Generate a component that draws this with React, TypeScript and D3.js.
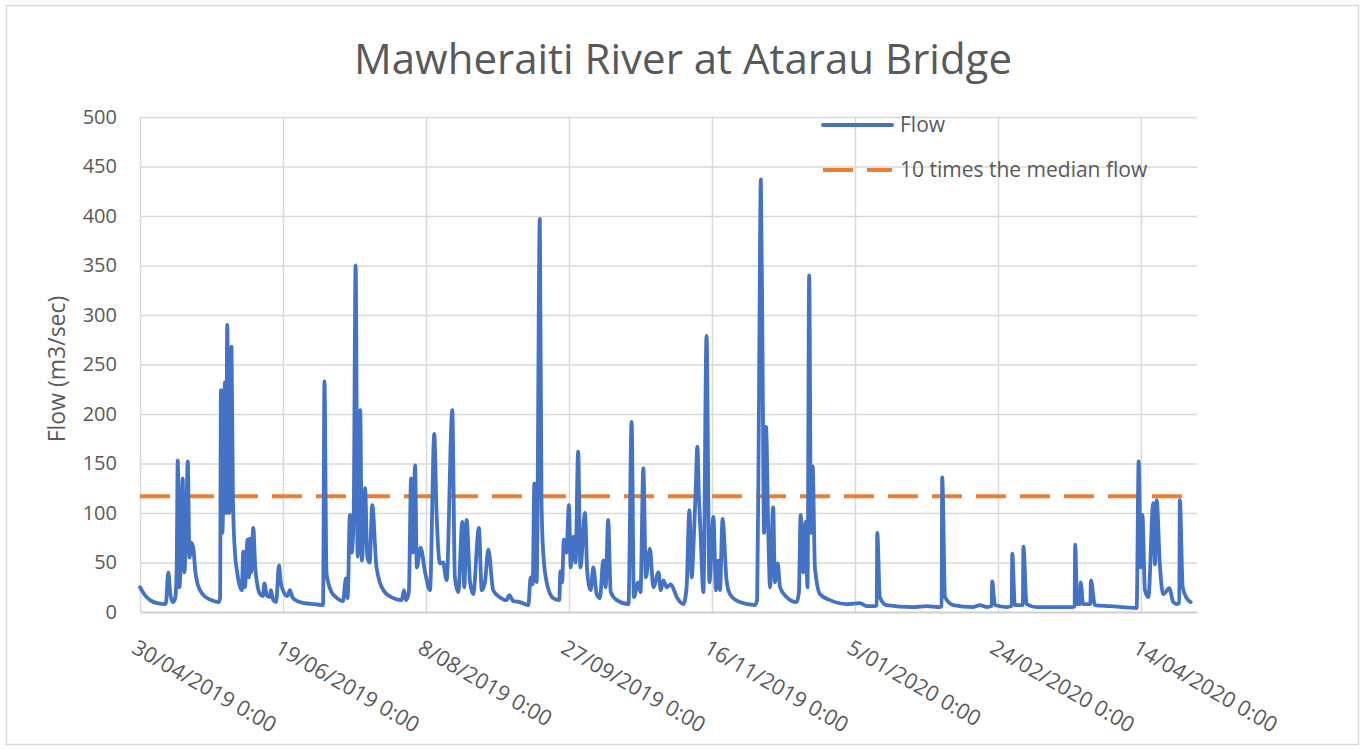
import React, { useRef, useEffect } from 'react';
import * as d3 from 'd3';

const { select, scaleTime, scaleLinear, axisBottom, axisLeft, line, curveMonotoneX } = d3;

const flowMayJun: [number, number][] = [
  [0, 25], [0.6, 22], [2, 16], [3.5, 12], [6, 9], [9, 8],
  [9.9, 40], [10.6, 18], [11.5, 10], [12.3, 14], [12.8, 40],
  [13.2, 153], [13.8, 25], [14.3, 60], [14.9, 135], [15.5, 40], [16.1, 80], [16.7, 152],
  [17.3, 55], [18, 70], [18.7, 63], [19.3, 42], [20, 30], [21, 22], [23, 15], [25, 12], [27.5, 10],
  [28, 14], [28.3, 224], [28.8, 80], [29.7, 232], [30.1, 100], [30.5, 290], [31.2, 100],
  [32, 268], [32.5, 113], [33.2, 60], [34, 40], [35, 25], [35.6, 22], [36.1, 61], [36.7, 25],
  [37.6, 73], [38.1, 35], [38.4, 74], [38.9, 40], [39.6, 85], [40.3, 45], [41, 28], [42, 18],
  [43, 16], [43.5, 29], [44.3, 17], [45.3, 15], [45.8, 22], [46.6, 12], [47.6, 10],
  [48.6, 47], [49.2, 30],
];

const flowJunAug: [number, number][] = [
  [50.3, 20], [51.5, 16], [52.4, 22], [53.3, 15], [55, 11], [57.5, 9], [61, 8], [64, 7],
  [64.5, 233], [65.2, 40], [65.8, 30], [67, 20], [68.5, 15], [71, 11], [72, 34], [72.6, 14],
  [73.4, 98], [74, 60], [74.7, 95], [75.4, 350], [76.1, 56], [77, 204], [77.6, 52],
  [78.7, 125], [79.5, 55], [80.3, 50], [81.2, 108], [82.7, 45], [85.1, 22], [88.6, 14],
  [91.5, 12], [92.3, 22], [93, 12], [94, 20], [94.8, 135], [95.4, 60], [96.2, 148],
  [96.8, 45], [98.1, 65], [99.7, 40],
];

const flowAugSep: [number, number][] = [
  [101.4, 22], [102.9, 180], [103.7, 100], [104.9, 49], [106, 50], [107.2, 32],
  [109.2, 204], [110.1, 35], [111.3, 20], [112.7, 91], [113.4, 25], [114.2, 93],
  [115.4, 30], [116.5, 18], [118.5, 85], [119.5, 22], [120.6, 30], [121.8, 63],
  [123.5, 22], [125.8, 15], [128.2, 12], [129.1, 17], [130.5, 11], [132.8, 10], [135.8, 7],
  [136.6, 35], [137.3, 28], [137.9, 130], [138.7, 30], [139.8, 397], [140.4, 110],
  [141, 60], [142.2, 30], [144.5, 14], [146.6, 12], [147, 41], [147.6, 30],
];

const flowSepNov: [number, number][] = [
  [148.2, 73], [149.1, 60], [150, 108], [150.6, 45], [151.5, 76], [152.3, 50],
  [153.2, 162], [154, 45], [155.6, 100], [156.4, 40], [157.6, 22], [158.5, 45],
  [159.7, 18], [160.8, 14], [162, 52], [162.8, 25], [163.7, 93], [164.6, 20],
  [166.7, 12], [170.8, 8], [171.9, 192], [172.7, 15], [174.2, 30], [175, 20],
  [176, 145], [176.9, 35], [178.3, 64], [179.5, 25], [181.3, 40], [182.1, 22],
  [183, 32], [184.2, 25], [185.6, 28], [187.7, 15], [190, 8], [191.1, 24],
  [192.1, 103], [192.9, 35], [193.5, 64], [194.3, 123], [194.9, 167], [195.4, 120],
  [196, 80], [197, 20],
];

const flowNovJan: [number, number][] = [
  [198.1, 279], [199.1, 30], [200.5, 96], [201.4, 22], [202.2, 52], [202.8, 22],
  [203.7, 94], [205.1, 32], [206.3, 18], [209.7, 10], [215, 7], [215.8, 12],
  [216.4, 200], [217.1, 437], [217.7, 248], [218.2, 80], [218.9, 187], [219.7, 80],
  [220.3, 25], [221.4, 106], [222, 30], [223, 49], [223.8, 25], [226.1, 15],
  [229.6, 10], [230.4, 20], [231, 98], [231.9, 40], [232.7, 91], [233.4, 25],
  [234, 340], [234.6, 80], [235.2, 147], [236, 45], [237.8, 18], [241.3, 12],
  [247.1, 8],
];

const flowJanApr: [number, number][] = [
  [251.7, 9], [254.1, 6], [256.9, 6], [257.6, 7], [257.8, 80], [258.7, 15], [261, 7], [270.4, 5],
  [275, 6], [279.7, 5], [280.3, 6], [280.5, 136], [281.5, 15], [284.4, 7], [291.4, 5],
  [293.7, 7], [296, 5], [297.8, 6], [298, 31], [298.9, 7], [303.1, 5], [304.8, 6], [305, 59],
  [305.9, 7], [308.7, 7], [308.9, 66], [310, 8], [313.5, 5], [326.3, 5], [326.8, 6], [327, 68],
  [327.7, 8], [328.7, 8], [328.9, 30], [329.8, 8], [332.3, 8], [332.5, 32], [333.9, 7],
  [339.2, 6], [348.5, 4],
];

const flowApr: [number, number][] = [
  [349.2, 152], [349.9, 45], [350.5, 98], [351.4, 22], [352.6, 15], [354.3, 110],
  [354.9, 48], [355.5, 113], [356.6, 48], [357.8, 18], [359.9, 24], [361.3, 10],
  [362.5, 8], [363.4, 9], [363.6, 113], [364.6, 25], [366, 14], [367.4, 10],
];

const medianFlowTimes10 = 117;
const medianLineDays = [0, 364.7];

const xTickDays = [0, 50, 100, 150, 200, 250, 300, 350];
const xTickLabels = [
  '30/04/2019 0:00',
  '19/06/2019 0:00',
  '8/08/2019 0:00',
  '27/09/2019 0:00',
  '16/11/2019 0:00',
  '5/01/2020 0:00',
  '24/02/2020 0:00',
  '14/04/2020 0:00',
];
const yTicks = [0, 50, 100, 150, 200, 250, 300, 350, 400, 450, 500];

const startMs = Date.UTC(2019, 3, 30);
const dayToDate = (d: number) => new Date(startMs + d * 86400000);

const App = () => {
  const ref = useRef<SVGSVGElement>(null);

  useEffect(() => {
    if (!ref.current) return;
    const svg = select(ref.current);
    svg.selectAll('*').remove();

    const left = 140;
    const right = 1197;
    const top = 117;
    const bottom = 612;
    const textColor = '#595959';
    const font = "'Open Sans', 'Noto Sans', sans-serif";

    const flow = [
      ...flowMayJun,
      ...flowJunAug,
      ...flowAugSep,
      ...flowSepNov,
      ...flowNovJan,
      ...flowJanApr,
      ...flowApr,
    ];

    const x = scaleTime()
      .domain([dayToDate(0), dayToDate(369.6)])
      .range([left, right]);
    const y = scaleLinear().domain([0, 500]).range([bottom, top]);

    svg
      .append('rect')
      .attr('x', 6.5)
      .attr('y', 5.5)
      .attr('width', 1352)
      .attr('height', 739)
      .attr('fill', '#fff')
      .attr('stroke', '#d9d9d9')
      .attr('stroke-width', 1.5);

    svg
      .append('text')
      .attr('x', 683)
      .attr('y', 74)
      .attr('text-anchor', 'middle')
      .style('font-family', font)
      .style('font-size', '42px')
      .attr('fill', textColor)
      .text('Mawheraiti River at Atarau Bridge');

    // horizontal gridlines
    svg
      .append('g')
      .attr('transform', `translate(${left},0)`)
      .call(axisLeft(y).tickValues(yTicks.slice(1)).tickSize(-(right - left)).tickFormat(() => ''))
      .call(g => g.select('.domain').remove())
      .call(g => g.selectAll('line').attr('stroke', '#d9d9d9').attr('stroke-width', 1.5));

    // vertical gridlines
    svg
      .append('g')
      .attr('transform', `translate(0,${bottom})`)
      .call(
        axisBottom(x)
          .tickValues(xTickDays.map(dayToDate))
          .tickSize(-(bottom - top))
          .tickFormat(() => '')
      )
      .call(g => g.select('.domain').remove())
      .call(g => g.selectAll('line').attr('stroke', '#d9d9d9').attr('stroke-width', 1.5));

    // x axis with slanted labels
    const xAxis = svg
      .append('g')
      .attr('transform', `translate(0,${bottom})`)
      .call(
        axisBottom(x)
          .tickValues(xTickDays.map(dayToDate))
          .tickSize(0)
          .tickFormat((_, i) => xTickLabels[i])
      );
    xAxis.select('.domain').attr('stroke', '#cfcfcf').attr('stroke-width', 2);
    xAxis
      .selectAll('text')
      .attr('y', 0)
      .attr('dy', 0)
      .attr('text-anchor', 'start')
      .attr('transform', 'translate(-10,40) rotate(30)')
      .style('font-family', font)
      .style('font-size', '21.5px')
      .attr('fill', textColor);

    // y axis labels
    const yAxis = svg
      .append('g')
      .attr('transform', `translate(${left},0)`)
      .call(axisLeft(y).tickValues(yTicks).tickSize(0).tickPadding(23));
    yAxis.select('.domain').remove();
    yAxis
      .selectAll('text')
      .style('font-family', font)
      .style('font-size', '20px')
      .attr('fill', textColor);

    svg
      .append('text')
      .attr('transform', 'translate(65,369) rotate(-90)')
      .attr('text-anchor', 'middle')
      .style('font-family', font)
      .style('font-size', '23px')
      .attr('fill', textColor)
      .text('Flow (m3/sec)');

    // 10 x median reference line
    svg
      .append('line')
      .attr('x1', x(dayToDate(medianLineDays[0])))
      .attr('x2', x(dayToDate(medianLineDays[1])))
      .attr('y1', y(medianFlowTimes10))
      .attr('y2', y(medianFlowTimes10))
      .attr('stroke', '#ED7D31')
      .attr('stroke-width', 4)
      .attr('stroke-dasharray', '30 14');

    const flowLine = line<[number, number]>()
      .x(d => x(dayToDate(d[0])))
      .y(d => y(d[1]))
      .curve(curveMonotoneX);

    svg
      .append('path')
      .datum(flow)
      .attr('d', flowLine)
      .attr('fill', 'none')
      .attr('stroke', '#4472C4')
      .attr('stroke-width', 3.8)
      .attr('stroke-linejoin', 'round')
      .attr('stroke-linecap', 'round');

    // legend
    const legend = svg.append('g');
    legend
      .append('line')
      .attr('x1', 823)
      .attr('x2', 892)
      .attr('y1', 125)
      .attr('y2', 125)
      .attr('stroke', '#4472C4')
      .attr('stroke-width', 4)
      .attr('stroke-linecap', 'round');
    legend
      .append('line')
      .attr('x1', 823)
      .attr('x2', 892)
      .attr('y1', 170)
      .attr('y2', 170)
      .attr('stroke', '#ED7D31')
      .attr('stroke-width', 4)
      .attr('stroke-dasharray', '30 14');
    legend
      .selectAll('text.lg')
      .data(['Flow', '10 times the median flow'])
      .enter()
      .append('text')
      .attr('class', 'lg')
      .attr('x', 900)
      .attr('y', (_, i) => 125 + i * 45)
      .attr('dy', '0.35em')
      .style('font-family', font)
      .style('font-size', '21px')
      .attr('fill', textColor)
      .text(d => d);
  }, []);

  return (
    <svg
      ref={ref}
      width={1365}
      height={749}
      style={{ position: 'absolute', left: 0, top: 0, background: '#fff' }}
    />
  );
};

export default App;
